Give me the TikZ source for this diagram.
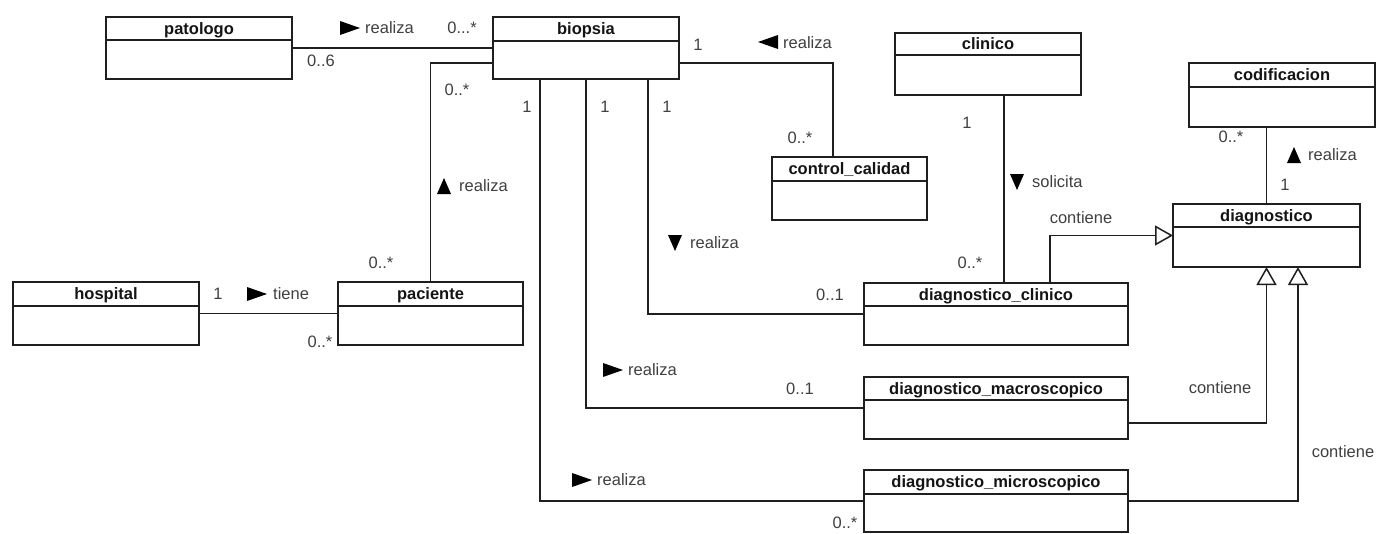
\documentclass[tikz,border=0pt]{standalone}
\usepackage{fontspec}
\setmainfont{Liberation Sans}
\usetikzlibrary{calc,arrows.meta}

% one UML class: name, left, top, right, bottom, header line, title (pixel units, y downwards)
\newcommand\umlclass[7]{%
  \node[classbox, anchor=north west, minimum width={#4-#2}, minimum height={#5-#3}] (#1) at (#2,-#3) {};
  \draw[edge] (#2,-#6) -- (#4,-#6);
  \node[classtitle, anchor=base] (#1-title) at ({(#2+#4)/2},{-(#3+#6)/2-5.5}) {#7};
}
% filled reading-direction triangles: left x, centre y
\newcommand\dirR[2]{\fill[dirmark] (#1,{-#2+7}) -- ({#1+20},-#2) -- (#1,{-#2-7}) -- cycle;}
\newcommand\dirL[2]{\fill[dirmark] ({#1+20},{-#2+7}) -- (#1,-#2) -- ({#1+20},{-#2-7}) -- cycle;}
\newcommand\dirU[2]{\fill[dirmark] (#1,{-#2-8}) -- ({#1+7},{-#2+8}) -- ({#1+14},{-#2-8}) -- cycle;}
\newcommand\dirD[2]{\fill[dirmark] (#1,{-#2+8}) -- ({#1+7},{-#2-8}) -- ({#1+14},{-#2+8}) -- cycle;}

\begin{document}
\begin{tikzpicture}[x=1pt,y=1pt,
  edge/.style={draw=black!88, line width=1.5pt},
  classbox/.style={edge, fill=white, inner sep=0pt, outer sep=0pt},
  classtitle/.style={font=\fontsize{16.5}{18}\selectfont\bfseries, text=black!92, inner sep=0pt},
  lbl/.style={font=\fontsize{16.5}{18}\selectfont, text=black!75, inner sep=0pt},
  dirmark/.style={fill=black},
  assoc/.style={edge},
  gen/.style={edge, -{Triangle[open, length=18pt, width=20pt, fill=white]}}]
\useasboundingbox[fill=white] (0,0) rectangle (1390,-533);

% classes
\umlclass{patologo}{106}{17}{292}{79}{40}{patologo}
\umlclass{biopsia}{493}{17}{679}{79}{41}{biopsia}
\umlclass{control}{772}{157}{927}{220}{181}{control\_calidad}
\umlclass{clinico}{895}{33}{1081}{95}{55}{clinico}
\umlclass{codificacion}{1189}{63}{1375}{127}{87}{codificacion}
\umlclass{diagnostico}{1173}{204}{1360}{267}{227}{diagnostico}
\umlclass{hospital}{13}{282}{199}{345}{306}{hospital}
\umlclass{paciente}{338}{282}{523}{345}{306}{paciente}
\umlclass{dc}{864}{283}{1128}{345}{306}{diagnostico\_clinico}
\umlclass{dmacro}{864}{377}{1128}{439}{400}{diagnostico\_macroscopico}
\umlclass{dmicro}{864}{470}{1128}{532}{494}{diagnostico\_microscopico}

% associations
\draw[assoc] (patologo.east) -- (biopsia.west);
\draw[assoc] ($(biopsia.south west)+(0,16)$) -| (paciente.north);
\draw[assoc] (hospital.east) -- (paciente.west);
\coordinate (ccTop) at ($(control.north)+(-16.5,0)$);
\draw[assoc] ($(biopsia.south east)+(0,16)$) -| (ccTop);
\coordinate (bDc) at ($(biopsia.south west)+(155,0)$);
\draw[assoc] (bDc) |- (dc.west);
\draw[assoc] (biopsia.south) |- (dmacro.west);
\coordinate (bMicro) at ($(biopsia.south west)+(47,0)$);
\draw[assoc] (bMicro) |- (dmicro.west);
\coordinate (clDown) at ($(clinico.south)+(16,0)$);
\draw[assoc] (clDown) -- (clDown |- dc.north);
\draw[assoc] (diagnostico.north) -- (diagnostico.north |- codificacion.south);

% generalizations
\coordinate (dcUp) at ($(dc.north west)+(186,0)$);
\draw[gen] (dcUp) |- (diagnostico.west);
\draw[gen] ($(dmacro.east)+(0,-15)$) -| (diagnostico.south);
\draw[gen] (dmicro.east) -| ($(diagnostico.south)+(31.5,0)$);

% patologo - biopsia
\dirR{340}{28}
\node[lbl, anchor=west] (l1) at (365,-28) {realiza};
\node[lbl] (m1) at (462,-28) {0...*};
\node[lbl] (m2) at (321,-61) {0..6};
% biopsia - paciente
\node[lbl] (m3) at (457,-90) {0..*};
\dirU{437}{186}
\node[lbl, anchor=west] (l2) at (459,-186) {realiza};
\node[lbl] (m4) at (381,-263) {0..*};
% hospital - paciente
\node[lbl] (m5) at (218,-294) {1};
\dirR{247}{294}
\node[lbl, anchor=west] (l3) at (273,-294) {tiene};
\node[lbl] (m6) at (320,-342) {0..*};
% biopsia - control_calidad
\node[lbl] (m7) at (698,-45) {1};
\dirL{758}{42}
\node[lbl, anchor=west] (l4) at (783,-43) {realiza};
\node[lbl] (m8) at (800,-138) {0..*};
% biopsia - diagnosticos
\node[lbl] (m9) at (527,-107) {1};
\node[lbl] (m10) at (605,-107) {1};
\node[lbl] (m11) at (667,-107) {1};
\dirD{668}{243}
\node[lbl, anchor=west] (l5) at (690,-243) {realiza};
\node[lbl] (m12) at (830,-295) {0..1};
\dirR{603}{370}
\node[lbl, anchor=west] (l6) at (628,-370) {realiza};
\node[lbl] (m13) at (800,-389) {0..1};
\dirR{572}{480}
\node[lbl, anchor=west] (l7) at (597,-480) {realiza};
\node[lbl] (m14) at (845,-523) {0..*};
% clinico - diagnostico_clinico
\node[lbl] (m15) at (967,-123) {1};
\dirD{1010}{182}
\node[lbl, anchor=west] (l8) at (1032,-182) {solicita};
\node[lbl] (m16) at (970,-263) {0..*};
\node[lbl] (g1) at (1081,-218) {contiene};
% codificacion - diagnostico
\node[lbl] (m17) at (1231,-137) {0..*};
\dirU{1287}{155}
\node[lbl, anchor=west] (l9) at (1308,-155) {realiza};
\node[lbl] (m18) at (1285,-185) {1};
% generalization labels
\node[lbl] (g2) at (1220,-388) {contiene};
\node[lbl] (g3) at (1343,-452) {contiene};
\end{tikzpicture}
\end{document}
